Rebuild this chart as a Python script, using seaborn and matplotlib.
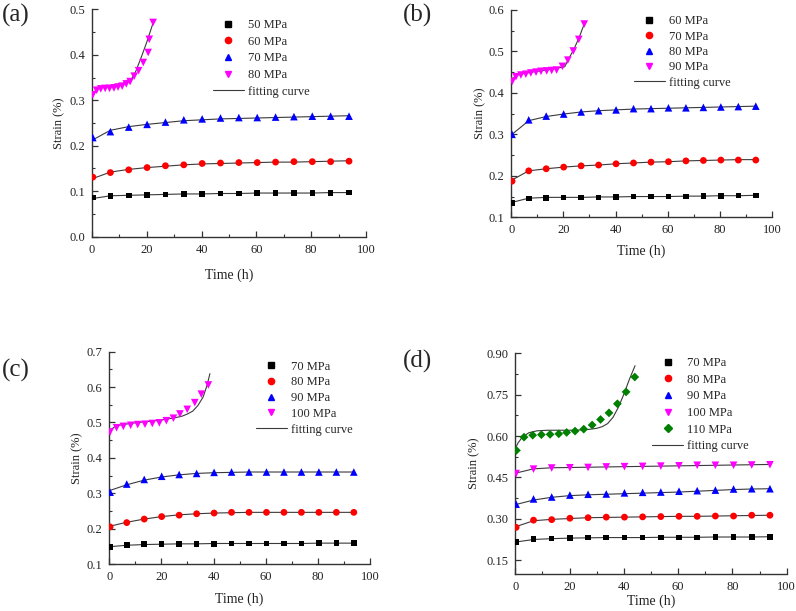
import matplotlib
matplotlib.use('Agg')
import matplotlib.pyplot as plt
from matplotlib.lines import Line2D
from matplotlib.ticker import MultipleLocator, AutoMinorLocator
from matplotlib.transforms import Bbox
import seaborn as sns

# time of the creep readings (h), same for every steady series
t_steady = [0.3, 6.7, 13.4, 20.1, 26.8, 33.5, 40.2, 46.9, 53.6, 60.3, 67.0, 73.7, 80.4, 87.1, 93.8]

# (a)
a_50 = [0.086, 0.089, 0.091, 0.092, 0.093, 0.094, 0.094, 0.095, 0.095, 0.096, 0.096, 0.096, 0.096, 0.096, 0.097]
a_60 = [0.131, 0.141, 0.147, 0.152, 0.156, 0.158, 0.161, 0.162, 0.163, 0.163, 0.164, 0.165, 0.165, 0.165, 0.166]
a_70 = [0.218, 0.231, 0.241, 0.247, 0.252, 0.257, 0.259, 0.261, 0.262, 0.262, 0.263, 0.264, 0.265, 0.265, 0.265]
a_80_t = [0.3, 1.7, 3.2, 4.8, 6.4, 8.0, 9.5, 11.0, 12.5, 13.9, 15.4, 17.0, 18.7, 20.5, 20.9, 22.3]
a_80 = [0.312, 0.322, 0.325, 0.326, 0.326, 0.327, 0.329, 0.331, 0.336, 0.341, 0.353, 0.365, 0.383, 0.405, 0.434, 0.471]
a_fit_50 = [0.084, 0.090, 0.091, 0.092, 0.093, 0.094, 0.094, 0.095, 0.095, 0.096, 0.096, 0.096, 0.096, 0.097, 0.097]
a_fit_60 = [0.128, 0.142, 0.148, 0.152, 0.155, 0.158, 0.160, 0.161, 0.162, 0.163, 0.164, 0.164, 0.165, 0.166, 0.167]
a_fit_70 = [0.213, 0.234, 0.242, 0.247, 0.251, 0.255, 0.257, 0.259, 0.260, 0.261, 0.262, 0.263, 0.264, 0.265, 0.266]
a_fit_80_t = [0, 0.8, 2, 3.5, 6, 9, 12, 13.9, 16, 18, 20, 22.4]
a_fit_80 = [0.308, 0.318, 0.327, 0.330, 0.332, 0.335, 0.338, 0.341, 0.364, 0.395, 0.428, 0.472]
a_yticks = [0.0, 0.1, 0.2, 0.3, 0.4, 0.5]

# (b)
b_60 = [0.135, 0.145, 0.147, 0.148, 0.148, 0.148, 0.149, 0.150, 0.150, 0.150, 0.150, 0.151, 0.151, 0.152, 0.152]
b_70 = [0.187, 0.212, 0.217, 0.221, 0.224, 0.226, 0.229, 0.231, 0.233, 0.234, 0.236, 0.237, 0.238, 0.238, 0.238]
b_80 = [0.300, 0.335, 0.344, 0.349, 0.354, 0.357, 0.359, 0.362, 0.362, 0.364, 0.364, 0.365, 0.366, 0.367, 0.368]
b_90_t = [0.4, 1.8, 3.7, 5.6, 7.5, 9.5, 11.4, 13.6, 15.5, 17.4, 19.6, 21.7, 23.8, 25.9, 28.0]
b_90 = [0.428, 0.439, 0.443, 0.445, 0.448, 0.450, 0.452, 0.453, 0.454, 0.455, 0.464, 0.479, 0.501, 0.529, 0.566]
b_fit_60 = [0.136, 0.146, 0.148, 0.148, 0.148, 0.149, 0.149, 0.150, 0.150, 0.150, 0.151, 0.151, 0.152, 0.152, 0.153]
b_fit_70 = [0.190, 0.212, 0.217, 0.221, 0.224, 0.226, 0.229, 0.231, 0.233, 0.234, 0.236, 0.237, 0.238, 0.239, 0.239]
b_fit_80 = [0.300, 0.333, 0.343, 0.349, 0.354, 0.357, 0.359, 0.361, 0.362, 0.363, 0.364, 0.365, 0.366, 0.367, 0.368]
b_fit_90_t = [0, 1, 2, 4, 8, 12, 16, 20.5, 22, 24, 26, 28.1]
b_fit_90 = [0.430, 0.437, 0.442, 0.446, 0.450, 0.454, 0.458, 0.463, 0.482, 0.505, 0.533, 0.568]
b_yticks = [0.1, 0.2, 0.3, 0.4, 0.5, 0.6]

# (c)
c_70 = [0.148, 0.153, 0.156, 0.156, 0.157, 0.157, 0.157, 0.158, 0.158, 0.158, 0.158, 0.158, 0.159, 0.159, 0.159]
c_80 = [0.205, 0.217, 0.227, 0.234, 0.238, 0.242, 0.244, 0.246, 0.246, 0.246, 0.246, 0.246, 0.246, 0.246, 0.246]
c_90 = [0.303, 0.326, 0.339, 0.348, 0.353, 0.356, 0.359, 0.360, 0.360, 0.360, 0.360, 0.360, 0.360, 0.360, 0.360]
c_100_t = [0.3, 2.8, 5.4, 8.2, 10.9, 13.7, 16.5, 19.2, 21.9, 24.6, 27.1, 29.9, 32.8, 35.3, 38.0]
c_100 = [0.473, 0.485, 0.489, 0.492, 0.494, 0.495, 0.497, 0.499, 0.505, 0.512, 0.524, 0.537, 0.556, 0.580, 0.606]
c_fit_70 = [0.149, 0.153, 0.155, 0.156, 0.157, 0.157, 0.158, 0.158, 0.158, 0.158, 0.158, 0.158, 0.159, 0.159, 0.159]
c_fit_80 = [0.207, 0.218, 0.227, 0.234, 0.239, 0.242, 0.244, 0.245, 0.246, 0.246, 0.246, 0.246, 0.246, 0.246, 0.246]
c_fit_90 = [0.308, 0.324, 0.337, 0.346, 0.352, 0.356, 0.358, 0.359, 0.360, 0.360, 0.360, 0.360, 0.360, 0.360, 0.360]
c_fit_100_t = [0, 1, 2.5, 5, 10, 15, 20, 25, 28, 30, 32, 34, 36, 37.5, 38.6]
c_fit_100 = [0.470, 0.482, 0.490, 0.494, 0.499, 0.503, 0.507, 0.513, 0.518, 0.524, 0.532, 0.548, 0.572, 0.605, 0.638]
c_yticks = [0.1, 0.2, 0.3, 0.4, 0.5, 0.6, 0.7]

# (d)
d_70 = [0.216, 0.226, 0.228, 0.231, 0.232, 0.232, 0.232, 0.232, 0.233, 0.233, 0.233, 0.234, 0.234, 0.234, 0.234]
d_80 = [0.269, 0.295, 0.297, 0.302, 0.304, 0.306, 0.306, 0.307, 0.308, 0.309, 0.309, 0.310, 0.310, 0.313, 0.313]
d_90 = [0.353, 0.372, 0.379, 0.386, 0.389, 0.390, 0.394, 0.396, 0.397, 0.400, 0.402, 0.404, 0.408, 0.409, 0.409]
d_100 = [0.464, 0.480, 0.484, 0.485, 0.486, 0.488, 0.489, 0.490, 0.491, 0.492, 0.494, 0.494, 0.494, 0.495, 0.496]
d_110_t = [0.4, 3.2, 6.4, 9.6, 12.8, 16.0, 18.9, 22.0, 25.2, 28.3, 31.4, 34.5, 37.6, 40.8, 44.0]
d_110 = [0.548, 0.596, 0.603, 0.605, 0.606, 0.608, 0.613, 0.618, 0.625, 0.640, 0.660, 0.684, 0.717, 0.760, 0.814]
d_fit_70 = [0.216, 0.225, 0.228, 0.230, 0.231, 0.232, 0.232, 0.232, 0.233, 0.233, 0.233, 0.234, 0.234, 0.234, 0.235]
d_fit_80 = [0.272, 0.293, 0.298, 0.301, 0.304, 0.305, 0.306, 0.307, 0.308, 0.309, 0.309, 0.310, 0.311, 0.312, 0.313]
d_fit_90 = [0.352, 0.368, 0.378, 0.384, 0.387, 0.389, 0.391, 0.393, 0.395, 0.397, 0.400, 0.403, 0.406, 0.408, 0.409]
d_fit_100 = [0.466, 0.481, 0.485, 0.486, 0.487, 0.488, 0.489, 0.490, 0.491, 0.492, 0.493, 0.494, 0.495, 0.496, 0.497]
d_fit_110_t = [0, 1, 2.5, 5, 8, 12, 16, 20, 24, 27, 30, 32, 34, 36, 38, 40, 42, 44.1]
d_fit_110 = [0.555, 0.575, 0.595, 0.612, 0.619, 0.621, 0.621, 0.621, 0.622, 0.624, 0.628, 0.634, 0.645, 0.668, 0.705, 0.752, 0.805, 0.855]
d_yticks = [0.15, 0.30, 0.45, 0.60, 0.75, 0.90]

sns.set_style('ticks')
plt.rcParams['font.family'] = ['Liberation Serif', 'DejaVu Serif']

spine_col = '#333333'
fit_col = '#3a3a3a'
styles = {
    'black': ('s', 'black', 16),
    'red': ('o', '#ff0000', 24),
    'blue': ('^', '#0000ff', 30),
    'magenta': ('v', '#ff00ff', 30),
    'green': ('D', '#008000', 20),
}

fig = plt.figure(figsize=(7.96, 6.11), dpi=100)

panels = [
    dict(name='(a)', rect=[0.1156, 0.6126, 0.3442, 0.3722], ylim=(0.0, 0.5), yticks=a_yticks, yfmt='{:.1f}',
         series=[('50 MPa', 'black', t_steady, a_50, t_steady, a_fit_50),
                 ('60 MPa', 'red', t_steady, a_60, t_steady, a_fit_60),
                 ('70 MPa', 'blue', t_steady, a_70, t_steady, a_fit_70),
                 ('80 MPa', 'magenta', a_80_t, a_80, a_fit_80_t, a_fit_80)],
         leg=(0.44, 0.957), lsp=0.37, lab=(0.002, 0.975), xpad=9, ypad=3),
    dict(name='(b)', rect=[0.6423, 0.6444, 0.3275, 0.3393], ylim=(0.1, 0.6), yticks=b_yticks, yfmt='{:.1f}',
         series=[('60 MPa', 'black', t_steady, b_60, t_steady, b_fit_60),
                 ('70 MPa', 'red', t_steady, b_70, t_steady, b_fit_70),
                 ('80 MPa', 'blue', t_steady, b_80, t_steady, b_fit_80),
                 ('90 MPa', 'magenta', b_90_t, b_90, b_fit_90_t, b_fit_90)],
         leg=(0.47, 0.974), lsp=0.27, lab=(0.506, 0.975), xpad=6, ypad=2),
    dict(name='(c)', rect=[0.1373, 0.0769, 0.3275, 0.3475], ylim=(0.1, 0.7), yticks=c_yticks, yfmt='{:.1f}',
         series=[('70 MPa', 'black', t_steady, c_70, t_steady, c_fit_70),
                 ('80 MPa', 'red', t_steady, c_80, t_steady, c_fit_80),
                 ('90 MPa', 'blue', t_steady, c_90, t_steady, c_fit_90),
                 ('100 MPa', 'magenta', c_100_t, c_100, c_fit_100_t, c_fit_100)],
         leg=(0.5616, 0.958), lsp=0.30, lab=(0.002, 0.393), xpad=7, ypad=2),
    dict(name='(d)', rect=[0.6474, 0.0606, 0.3410, 0.3612], ylim=(0.10, 0.90), yticks=d_yticks, yfmt='{:.2f}',
         series=[('70 MPa', 'black', t_steady, d_70, t_steady, d_fit_70),
                 ('80 MPa', 'red', t_steady, d_80, t_steady, d_fit_80),
                 ('90 MPa', 'blue', t_steady, d_90, t_steady, d_fit_90),
                 ('100 MPa', 'magenta', t_steady, d_100, t_steady, d_fit_100),
                 ('110 MPa', 'green', d_110_t, d_110, d_fit_110_t, d_fit_110)],
         leg=(0.504, 0.983), lsp=0.37, lab=(0.506, 0.408), xpad=1.5, ypad=4),
]

for p in panels:
    ax = fig.add_axes(p['rect'])
    handles = []
    for label, key, tx, ty, fx, fy in p['series']:
        mk, col, s = styles[key]
        sns.lineplot(x=fx, y=fy, ax=ax, color=fit_col, linewidth=0.8, sort=False, zorder=2)
        sns.scatterplot(x=tx, y=ty, ax=ax, marker=mk, color=col, s=s, edgecolor='none', zorder=3)
        handles.append(Line2D([], [], linestyle='none', marker=mk, color=col,
                              markersize=4.5 if mk != 's' else 4, label=label))
    handles.append(Line2D([], [], color=fit_col, linewidth=0.8, label='fitting curve'))

    ax.set_xlim(0, 100)
    ax.set_ylim(*p['ylim'])
    ax.xaxis.set_major_locator(MultipleLocator(20))
    ax.xaxis.set_minor_locator(AutoMinorLocator(2))
    ax.set_yticks(p['yticks'])
    ax.set_yticklabels([p['yfmt'].format(v) for v in p['yticks']])
    ax.yaxis.set_minor_locator(AutoMinorLocator(2))

    sns.despine(ax=ax)
    for sp in ['left', 'bottom']:
        ax.spines[sp].set_color(spine_col)
        ax.spines[sp].set_linewidth(1.0)
    ax.tick_params(which='major', direction='in', length=4, width=0.9, color=spine_col,
                   labelsize=9, labelcolor='#222222', pad=5)
    ax.tick_params(which='minor', direction='in', length=2.5, width=0.8, color=spine_col)
    ax.set_xlabel('Time (h)', fontsize=10, labelpad=p['xpad'], color='#222222')
    ax.set_ylabel('Strain (%)', fontsize=9, labelpad=p['ypad'], color='#222222')

    ax.legend(handles=handles, loc='upper left', bbox_to_anchor=p['leg'], frameon=False,
              fontsize=9, handlelength=2.5, handletextpad=0.3, labelspacing=p['lsp'],
              borderpad=0, borderaxespad=0)
    fig.text(p['lab'][0], p['lab'][1], p['name'], fontsize=18, ha='left', va='center')

    if p['name'] == '(c)':
        # the last x label of this panel is cut off in the source figure
        lbl = ax.get_xticklabels()[-1]
        lbl.set_clip_on(True)
        lbl.set_clip_box(Bbox([[0, 0], [376, 611]]))

fig.savefig('out.png', dpi=100)
